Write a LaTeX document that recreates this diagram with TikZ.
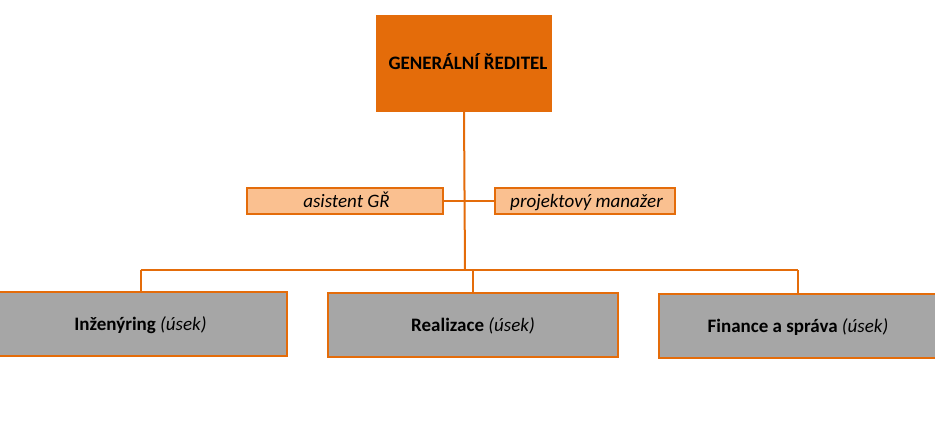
\documentclass[tikz,border=0pt]{standalone}
\usepackage{fontspec}
\setmainfont{Carlito}
\usetikzlibrary{positioning}
\definecolor{oranzova}{HTML}{E46C0A}
\definecolor{svetla}{HTML}{FAC090}
\definecolor{seda}{HTML}{A6A6A6}

\begin{document}
\begin{tikzpicture}[x=1pt,y=-1pt,
  reditel/.style={draw=oranzova,fill=oranzova,line width=2pt,
    minimum width=174pt,minimum height=95pt,inner sep=0pt,
    text height=14pt,text depth=3pt,
    font=\fontsize{19}{22}\selectfont\bfseries},
  stab/.style={draw=oranzova,fill=svetla,line width=2pt,
    minimum height=26pt,inner sep=0pt,
    text height=15pt,text depth=2pt,
    font=\fontsize{19}{22}\selectfont\itshape},
  usek/.style={draw=oranzova,fill=seda,line width=2pt,
    minimum height=64pt,inner sep=0pt,
    text height=15pt,text depth=2pt,
    font=\fontsize{19}{22}\selectfont},
  linka/.style={draw=oranzova,line width=2pt}]
\useasboundingbox (0,0) rectangle (935,429);

%vedeni
\node[reditel] (gr) at (464,63.5) {\hspace*{8pt}GENERÁLNÍ ŘEDITEL};

%stab
\node[stab,minimum width=196pt] (asi) at (345,201) {\hspace*{3pt}asistent GŘ};
\node[stab,minimum width=180pt] (pm) at (585,201) {\hspace*{3pt}projektový manažer};

%useky
\node[usek,minimum width=293pt] (ing) at (140.5,324) {\textbf{Inženýring} \textit{(úsek)}};
\node[usek,minimum width=290pt] (rea) at (473,324.5) {\textbf{Realizace} \textit{(úsek)}};
\node[usek,minimum width=278pt] (fin) at (798,325.5) {\textbf{Finance a správa} \textit{(úsek)}};

%spojnice
\coordinate (bus) at (465,270);
\draw[linka] (gr.south) -- (bus);
\draw[linka] (asi.east) -- (pm.west);
\draw[linka] (ing.north |- bus) -- (fin.north |- bus);
\foreach \u in {ing,rea,fin}
  \draw[linka] (\u.north) -- (\u.north |- bus);
\end{tikzpicture}
\end{document}
